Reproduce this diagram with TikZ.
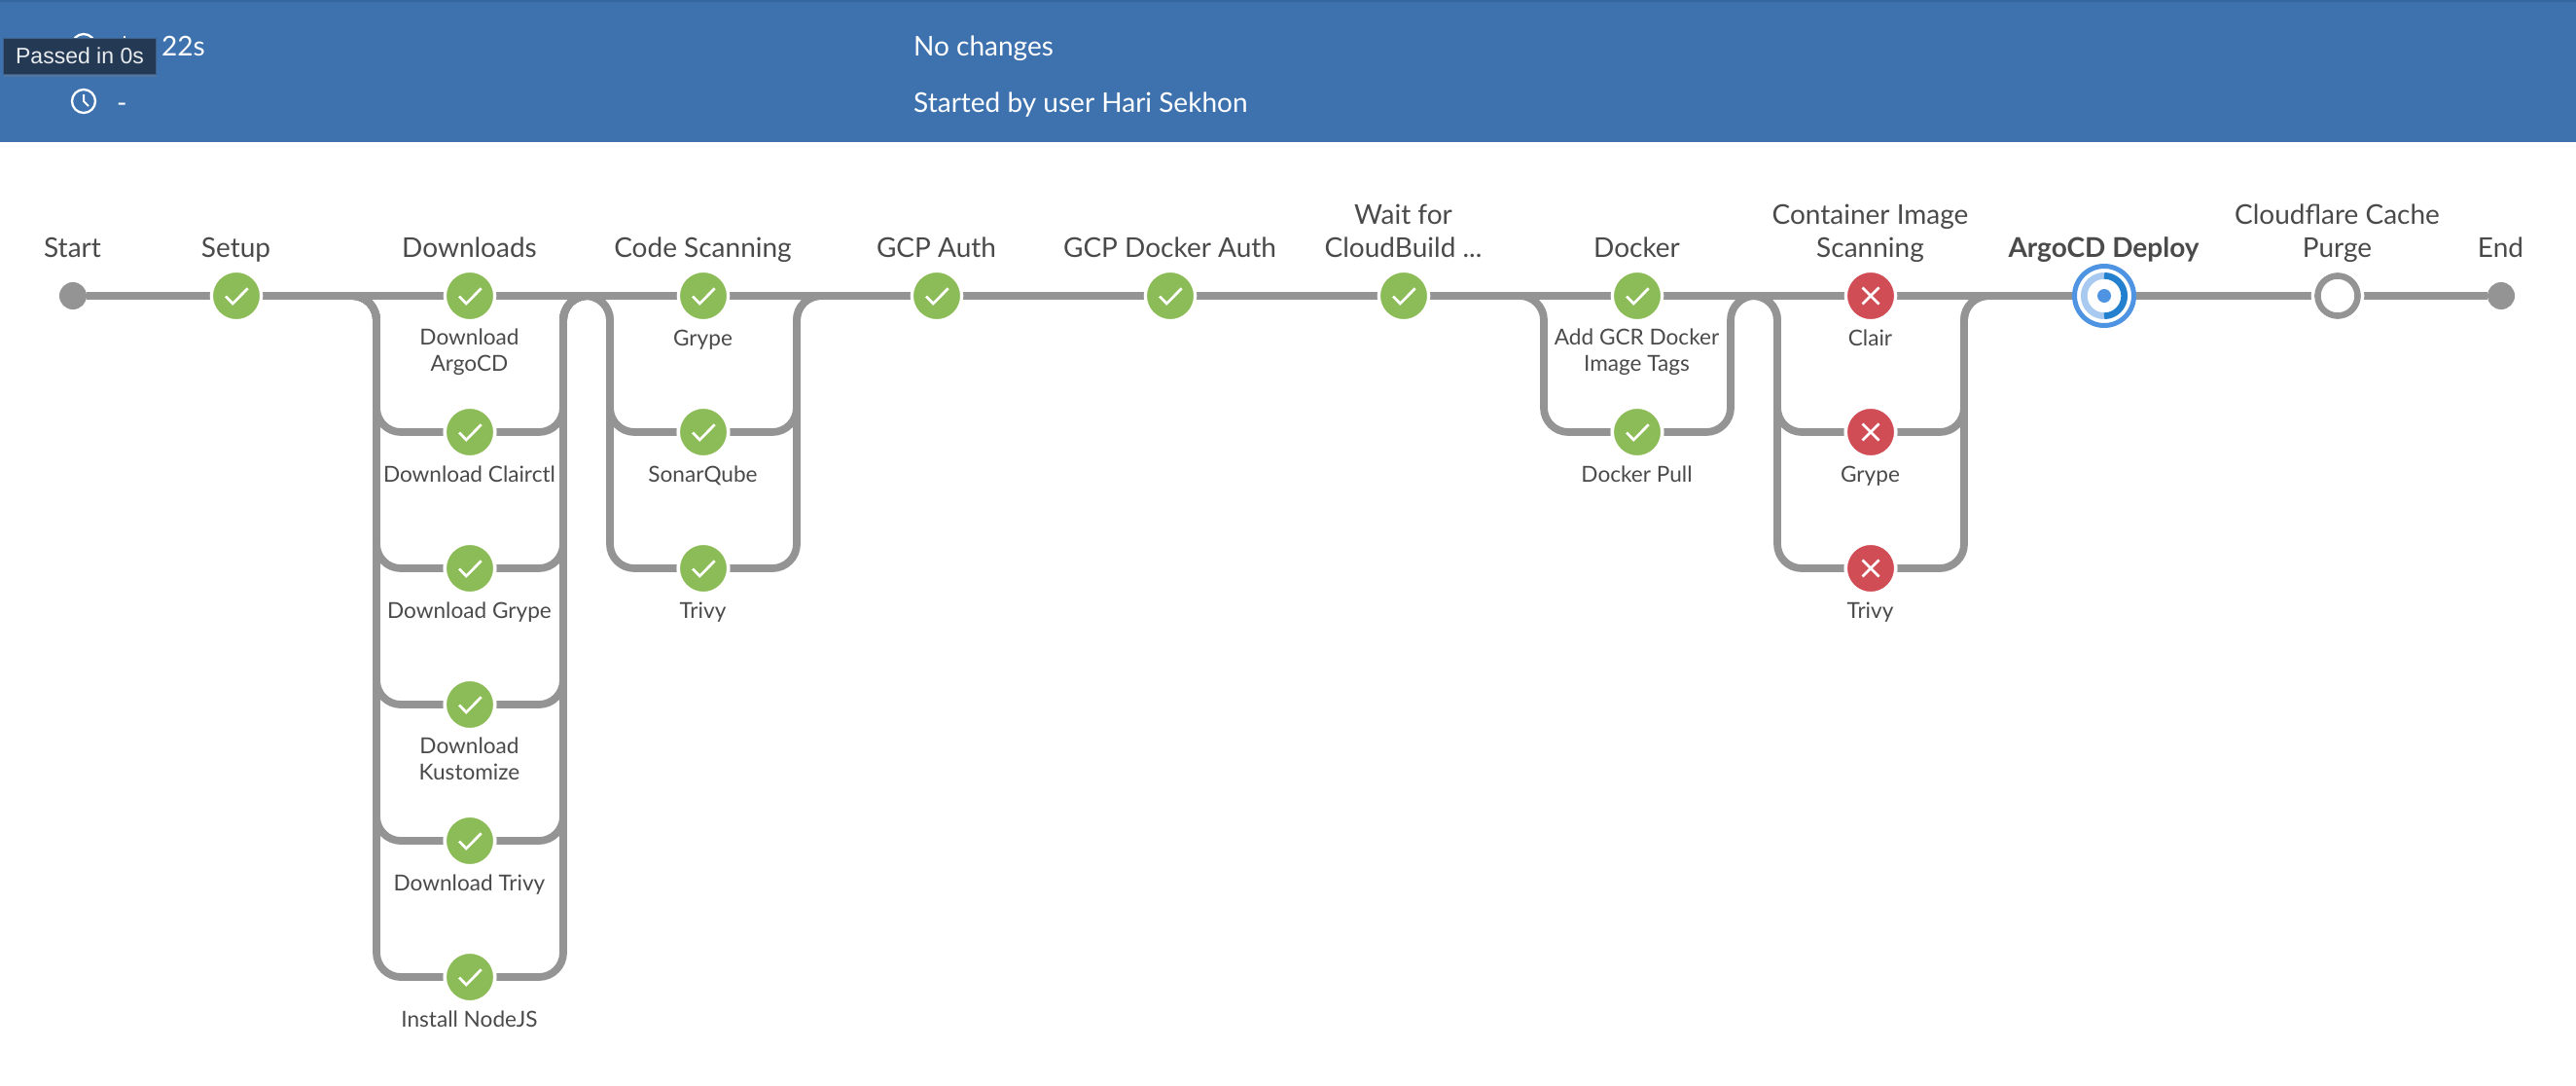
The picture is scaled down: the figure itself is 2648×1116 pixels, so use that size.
\documentclass[tikz,border=0pt]{standalone}
\usepackage{xcolor}
\usepackage{fontspec}
\setmainfont{Lato}
\newfontfamily\tipfont{Liberation Sans}
\usetikzlibrary{
  arrows.meta,
  positioning,
  calc,
  backgrounds,
  shadows
}
\definecolor{ciHeader}{HTML}{3E72AE}
\definecolor{ciHeaderTop}{HTML}{35659F}
\definecolor{ciTip}{HTML}{243A54}
\definecolor{ciTipEdge}{HTML}{3F5F85}
\definecolor{ciPipe}{HTML}{949494}
\definecolor{ciGreen}{HTML}{8CBC57}
\definecolor{ciRed}{HTML}{D14D56}
\definecolor{ciRun}{HTML}{4F94E2}
\definecolor{ciRunDark}{HTML}{2280CF}
\definecolor{ciRunLight}{HTML}{A9CAF0}
\definecolor{ciText}{HTML}{4A4A4A}
\tikzset{
  okstep/.style={circle, draw=white, line width=3.3pt, fill=ciGreen, minimum size=51.3pt, inner sep=0pt},
  failstep/.style={okstep, fill=ciRed},
  todostep/.style={okstep, fill=white, path picture={\draw[ciPipe, line width=6.7pt] (path picture bounding box.center) circle (20.6pt);}},
  runstep/.style={circle, draw=ciRun, line width=5pt, fill=white, minimum size=61pt, inner sep=0pt},
  endpoint/.style={circle, fill=ciPipe, minimum size=28pt, inner sep=0pt},
  pipe/.style={draw=ciPipe, line width=7.8pt, rounded corners=25pt},
  tick/.style={draw=white, line width=2.7pt},
  stagetext/.style={font=\fontsize{28}{34}\selectfont, text=ciText, align=center, anchor=south, inner sep=0pt, text depth=7pt},
  steptext/.style={font=\fontsize{22.6}{27}\selectfont, text=ciText, align=center, anchor=north, inner sep=0pt, execute at begin node=\rule{0pt}{17pt}},
  headtext/.style={font=\fontsize{28}{34}\selectfont, text=white, inner sep=0pt, anchor=west, text height=20pt, text depth=6pt},
  clockface/.style={circle, draw=white, line width=2.3pt, minimum size=24pt, inner sep=0pt},
  tooltip/.style={draw=ciTipEdge, line width=1pt, fill=ciTip, text=white!90!ciTip, minimum width=157pt, minimum height=37pt,
    inner sep=0pt, font=\tipfont\fontsize{23}{26}\selectfont, drop shadow={shadow xshift=0pt, shadow yshift=-3pt, opacity=.3}}
}
\begin{document}
\begin{tikzpicture}[x=1pt, y=1pt, node distance=140pt and 240pt, on grid]
  \useasboundingbox (0,0) rectangle (2648,-1116);
  \fill[ciHeader] (0,0) rectangle (2648,-146);
  \fill[ciHeaderTop] (0,0) rectangle (2648,-2);
  % stages
  \node[endpoint] (start) at (75,-304) {};
  \node[okstep] (setup) at (243,-304) {};
  \node[okstep, right=of setup] (dlargo) {};
  \node[okstep, right=of dlargo] (scgrype) {};
  \node[okstep, right=of scgrype] (gcpauth) {};
  \node[okstep, right=of gcpauth] (gcpdocker) {};
  \node[okstep, right=of gcpdocker] (cloudbuild) {};
  \node[okstep, right=of cloudbuild] (dkrtags) {};
  \node[failstep, right=of dkrtags] (ciclair) {};
  \node[runstep, right=of ciclair] (argocd) {};
  \node[todostep, right=of argocd] (purge) {};
  \node[endpoint] (end) at (2571,-304) {};
  % parallel steps
  \node[okstep, below=of dlargo] (dlclair) {};
  \node[okstep, below=of dlclair] (dlgrype) {};
  \node[okstep, below=of dlgrype] (dlkustomize) {};
  \node[okstep, below=of dlkustomize] (dltrivy) {};
  \node[okstep, below=of dltrivy] (nodejs) {};
  \node[okstep, below=of scgrype] (scsonar) {};
  \node[okstep, below=of scsonar] (sctrivy) {};
  \node[okstep, below=of dkrtags] (dkrpull) {};
  \node[failstep, below=of ciclair] (cigrype) {};
  \node[failstep, below=of cigrype] (citrivy) {};
  % pipes
  \begin{scope}[on background layer]
    \foreach \a/\b in {start/setup, setup/dlargo, dlargo/scgrype, scgrype/gcpauth, gcpauth/gcpdocker,
      gcpdocker/cloudbuild, cloudbuild/dkrtags, dkrtags/ciclair, ciclair/argocd, argocd/purge, purge/end}{
      \draw[pipe] (\a) -- (\b);
    }
    \foreach \a/\b/\c in {setup/dlclair/scgrype, setup/dlgrype/scgrype, setup/dlkustomize/scgrype, setup/dltrivy/scgrype,
      setup/nodejs/scgrype, dlargo/scsonar/gcpauth, dlargo/sctrivy/gcpauth, cloudbuild/dkrpull/ciclair,
      dkrtags/cigrype/argocd, dkrtags/citrivy/argocd}{
      \draw[pipe] (\a) -- ($(\a-|\b)+(-96,0)$) |- (\b);
      \draw[pipe] (\b) -- ($(\b)+(96,0)$) |- (\c);
    }
  \end{scope}
  % step marks
  \foreach \n in {setup,dlargo,scgrype,gcpauth,gcpdocker,cloudbuild,dkrtags,dlclair,dlgrype,dlkustomize,dltrivy,nodejs,scsonar,sctrivy,dkrpull}{
    \draw[tick] ($(\n)+(-11,-0.5)$) -- ($(\n)+(-3.7,-8)$) -- ($(\n)+(11.7,7.7)$);
  }
  \foreach \n in {ciclair,cigrype,citrivy}{
    \draw[tick] ($(\n)+(-8.5,8.5)$) -- ($(\n)+(8.5,-8.5)$);
    \draw[tick] ($(\n)+(-8.5,-8.5)$) -- ($(\n)+(8.5,8.5)$);
  }
  \draw[ciRunLight, line width=6.7pt] ($(argocd)+(0,20.7)$) arc (90:270:20.7pt);
  \draw[ciRunDark, line width=6.7pt] ($(argocd)+(0,20.7)$) arc (90:-90:20.7pt);
  \fill[ciRun] (argocd) circle (7pt);
  % stage names
  \foreach \n/\t in {start/Start, setup/Setup, dlargo/Downloads, scgrype/Code Scanning, gcpauth/GCP Auth, gcpdocker/GCP Docker Auth,
    cloudbuild/{Wait for\\CloudBuild ...}, dkrtags/Docker, ciclair/{Container Image\\Scanning}, argocd/{\textbf{ArgoCD Deploy}}, purge/{Cloudflare Cache\\Purge}, end/End}{
    \node[stagetext] (\n-name) at ($(\n)+(-0.5,32)$) {\t};
  }
  % step names
  \foreach \n/\t in {dlargo/{Download\\ArgoCD}, dlclair/Download Clairctl, dlgrype/Download Grype, dlkustomize/{Download\\Kustomize}, dltrivy/Download Trivy,
    nodejs/Install NodeJS, scgrype/Grype, scsonar/SonarQube, sctrivy/Trivy, dkrtags/{Add GCR Docker\\Image Tags}, dkrpull/Docker Pull,
    ciclair/Clair, cigrype/Grype, citrivy/Trivy}{
    \node[steptext] (\n-name2) at ($(\n)+(-0.5,-34)$) {\t};
  }
  % header
  \node[clockface] (clocka) at (86,-47) {};
  \node[clockface] (clockb) at (86,-104) {};
  \draw[white, line width=2pt] ($(clockb)+(0,7)$) -- (clockb.center) -- ($(clockb)+(5,-5)$);
  \draw[white, line width=2pt] (128,-36.7) -- (128,-41);
  \node[headtext] (duration) at (166,-50.5) {22s};
  \node[headtext] (dash) at (120,-108.5) {-};
  \node[headtext] (changes) at (939,-50.5) {No changes};
  \node[headtext] (cause) at (939,-108.5) {Started by user Hari Sekhon};
  \node[tooltip] (passed) at (82,-57.6) {Passed in 0s};
\end{tikzpicture}
\end{document}
